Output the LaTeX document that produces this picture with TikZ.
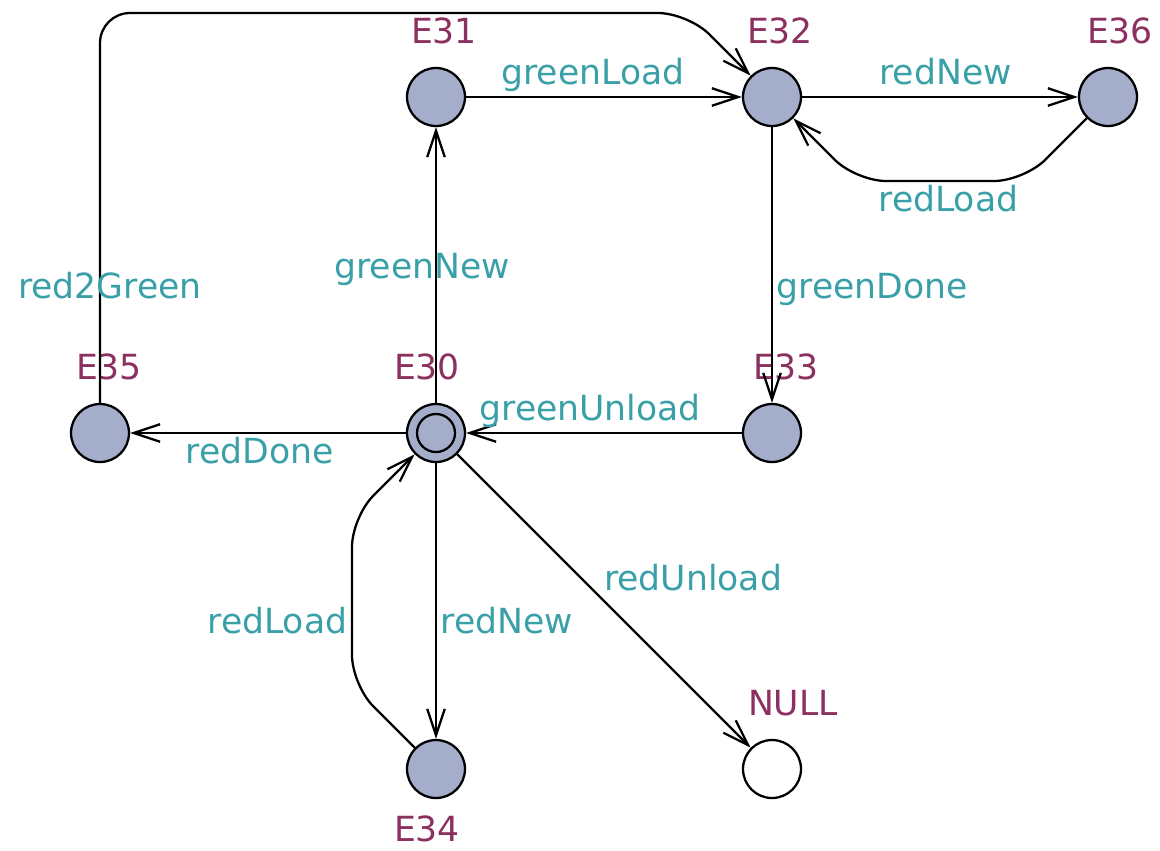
\documentclass[tikz,border=0pt]{standalone}
\usepackage{fontspec}
\setmainfont{DejaVu Sans}
\usetikzlibrary{calc,positioning,arrows.meta}
\definecolor{locfill}{RGB}{164,174,203}
\definecolor{locname}{RGB}{140,48,96}
\definecolor{synccol}{RGB}{58,160,168}

\begin{document}
\begin{tikzpicture}[x=0.02cm, y=-0.02cm, line width=1.3pt, >={Straight Barb[length=15pt,width=10pt]}]
\tikzstyle{loc}=[circle, draw, fill=locfill, minimum size=1.16cm, inner sep=0pt]
\tikzstyle{locid}=[text=locname, inner sep=0pt, font=\fontsize{19.7}{23}\selectfont]
\tikzstyle{sync}=[text=synccol, inner sep=2pt, text height=14.8pt, text depth=4.5pt, font=\fontsize{19.7}{23}\selectfont]

\useasboundingbox (0,0) rectangle (1160,850);

\node[loc] (E31) at (436,97) {};
\node[loc] (E32) at (772,97) {};
\node[loc] (E36) at (1108,97) {};
\node[loc] (E35) at (100,433) {};
\node[loc] (E30) at (436,433) {};
\node[loc] (E33) at (772,433) {};
\node[loc] (E34) at (436,769) {};
\node[loc, fill=white] (NULL) at (772,769) {};
\node[circle, draw, minimum size=0.76cm, inner sep=0pt] (E30i) at (E30) {};

% location names
\node[locid, above=0.44cm of E31, xshift=0.16cm] (nE31) {E31};
\node[locid, above=0.44cm of E32, xshift=0.16cm] (nE32) {E32};
\node[locid, above=0.44cm of E36, xshift=0.24cm] (nE36) {E36};
\node[locid, above=0.44cm of E35, xshift=0.18cm] (nE35) {E35};
\node[locid, above=0.44cm of E30, xshift=-0.18cm] (nE30) {E30};
\node[locid, above=0.44cm of E33, xshift=0.28cm] (nE33) {E33};
\node[locid, below=0.32cm of E34, xshift=-0.18cm] (nE34) {E34};
\node[locid, above=0.44cm of NULL, xshift=0.42cm] (nNULL) {NULL};

% edges
\draw[->] (E31) -- node[sync, above, pos=0.46] {greenLoad} (E32);
\draw[->] (E32) -- node[sync, above, pos=0.52] {redNew} (E36);
\draw[->, rounded corners=0.6cm] (E36) -- (1024,181) -- node[sync, below, pos=0.45] {redLoad} (856,181) -- (E32);
\draw[->] (E32) -- node[sync, right, pos=0.58, yshift=-0.04cm] {greenDone} (E33);
\draw[->] (E33) -- node[sync, above, pos=0.55] {greenUnload} (E30);
\draw[->] (E30) -- node[sync, below, pos=0.53] {redDone} (E35);
\draw[->, rounded corners=0.6cm] (E35) -- node[sync, pos=0.3, xshift=0.2cm, yshift=-0.08cm] {red2Green} (100,13) -- (688,13) -- (E32);
\draw[->] (E30) -- node[sync, xshift=-0.28cm, yshift=-0.08cm] {greenNew} (E31);
\draw[->] (E30) -- node[sync, right, pos=0.57, yshift=-0.08cm] {redNew} (E34);
\draw[->, rounded corners=0.6cm] (E34) -- (352,685) -- node[sync, left, pos=0.38, yshift=-0.06cm] {redLoad} (352,517) -- (E30);
\draw[->] (E30) -- node[sync, above right, inner sep=0pt, xshift=-0.02cm, yshift=0.02cm] {redUnload} (NULL);
\end{tikzpicture}
\end{document}
